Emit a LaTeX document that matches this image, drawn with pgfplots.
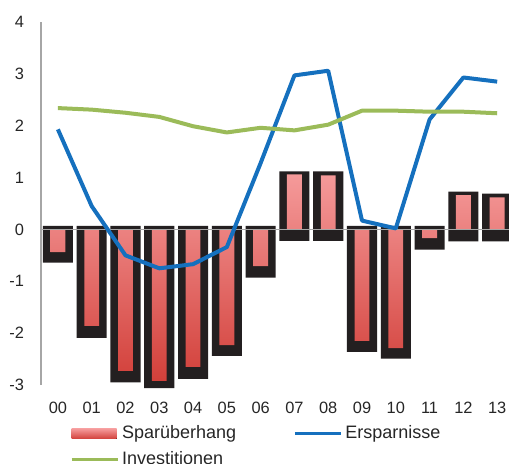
\documentclass[border=0pt]{standalone}
\usepackage{pgfplots}
\pgfplotsset{compat=1.18}
\usepackage{fontspec}
\setmainfont{Liberation Sans}

\definecolor{barblack}{HTML}{231F20}
\definecolor{barlight}{HTML}{F59A9A}
\definecolor{barmid}{HTML}{F08C8C}
\definecolor{bardark}{HTML}{D2403A}
\definecolor{saveblue}{HTML}{1570BE}
\definecolor{invgreen}{HTML}{9BBB59}
\definecolor{axisgray}{HTML}{A6A6A6}

% black frame: part above and part below zero
\pgfplotstableread{
x top bottom
0 0.07 -0.64
1 0.07 -2.09
2 0.07 -2.95
3 0.07 -3.06
4 0.07 -2.88
5 0.07 -2.44
6 0.07 -0.93
7 1.12 -0.22
8 1.12 -0.22
9 0.07 -2.36
10 0.07 -2.49
11 0.07 -0.39
12 0.73 -0.23
13 0.69 -0.23
}\frame

\pgfplotstableread{
x spar erspar inv
0 -0.44 1.93 2.34
1 -1.86 0.45 2.31
2 -2.73 -0.50 2.25
3 -2.92 -0.75 2.17
4 -2.65 -0.67 1.99
5 -2.23 -0.34 1.87
6 -0.71 1.28 1.96
7 1.06 2.97 1.91
8 1.04 3.06 2.02
9 -2.15 0.17 2.29
10 -2.29 0.02 2.29
11 -0.17 2.12 2.27
12 0.66 2.93 2.27
13 0.62 2.85 2.24
}\data

\begin{document}
\begin{tikzpicture}
\path[use as bounding box] (-20.5pt,-39.5pt) rectangle (234pt,192.5pt);
\begin{axis}[
  at={(0,0)}, anchor=south west,
  scale only axis, width=234pt, height=181.5pt,
  xmin=-0.5, xmax=13.35, ymin=-3, ymax=4,
  clip=false,
  axis lines*=left,
  axis line style={-},
  x axis line style={draw=none},
  y axis line style={draw=axisgray, line width=0.8pt},
  major tick length=0pt,
  xtick={0,...,13},
  xticklabels={00,01,02,03,04,05,06,07,08,09,10,11,12,13},
  ytick={-3,...,4},
  font=\fontsize{8.2}{10}\selectfont,
  ticklabel style={font=\fontsize{8.2}{10}\selectfont, text=black!85},
  /pgf/number format/assume math mode=true,
  yticklabel style={anchor=east, xshift=-5pt},
  xticklabel style={anchor=north, yshift=-5pt},
  legend columns=2,
  legend cell align=left,
  legend style={at={(0.061,-0.103)}, anchor=north west, draw=none, fill=none,
    inner sep=0pt, row sep=1.8pt,
    font=\fontsize{9}{10.5}\selectfont,
    nodes={inner sep=1.5pt, text=black!85},
    /tikz/every even column/.append style={column sep=0pt}},
]
\addplot[ybar, bar shift=0pt, bar width=0.89, fill=barblack, draw=none, forget plot]
  table[x=x, y=top] {\frame};
\addplot[ybar, bar shift=0pt, bar width=0.89, fill=barblack, draw=none, forget plot]
  table[x=x, y=bottom] {\frame};
\addplot[ybar, bar shift=0pt, bar width=0.44, draw=none,
  top color=barlight, middle color=barmid, bottom color=bardark,
  legend image code/.code={\fill[top color=barlight, bottom color=bardark, draw=none]
    (0pt,-2.5pt) rectangle (22.5pt,2.5pt);}]
  table[x=x, y=spar] {\data};
\addlegendentry{Sparüberhang\hspace*{27pt}}
\addplot[axisgray, line width=0.8pt, forget plot] coordinates {(-0.5,0) (13.35,0)};
\addplot[saveblue, line width=2pt, line join=round, mark=none,
  legend image code/.code={\draw[saveblue, line width=1.6pt] (0pt,0pt) -- (23pt,0pt);}]
  table[x=x, y=erspar] {\data};
\addlegendentry{Ersparnisse}
\addplot[invgreen, line width=2pt, line join=round, mark=none,
  legend image code/.code={\draw[invgreen, line width=1.6pt] (0pt,0pt) -- (23pt,0pt);}]
  table[x=x, y=inv] {\data};
\addlegendentry{Investitionen}
\end{axis}
\end{tikzpicture}
\end{document}
